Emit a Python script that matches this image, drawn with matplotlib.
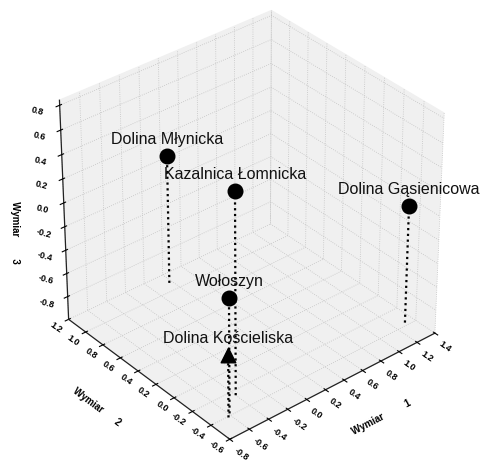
import numpy as np
import matplotlib.pyplot as plt
from matplotlib.transforms import offset_copy

plt.rcParams['font.family'] = ['Liberation Sans', 'DejaVu Sans']
plt.rcParams['grid.color'] = '#c2c2c2'
plt.rcParams['grid.linestyle'] = ':'
plt.rcParams['grid.linewidth'] = 0.6

names = ['Dolina Młynicka', 'Kazalnica Łomnicka', 'Dolina Gąsienicowa',
         'Wołoszyn', 'Dolina Kościeliska']
wymiar1 = [0.17, -0.40, 1.31, -0.59, -0.63]
wymiar2 = [1.09, -0.25, -0.37, -0.38, -0.41]
wymiar3 = [0.10, 0.69, 0.00, -0.03, -0.47]
shapes = ['o', 'o', 'o', 'o', '^']

x_ticks = np.round(np.arange(-0.8, 1.41, 0.2), 1) + 0.0
y_ticks = np.round(np.arange(-0.6, 1.21, 0.2), 1) + 0.0
z_ticks = np.round(np.arange(-0.8, 0.81, 0.2), 1) + 0.0
x_lim = (-0.8, 1.4)
y_lim = (-0.6, 1.2)
z_lim = (-1.0, 0.84)

fig = plt.figure(figsize=(4.84, 4.64), dpi=100)
ax = fig.add_axes([0.006, 0.012, 1, 1], projection='3d')
ax.view_init(elev=34, azim=-130)
ax.set_proj_type('persp', focal_length=1.2)
ax.set_box_aspect((1.09, 1.04, 1.06), zoom=0.962)

ax.set_xlim(*x_lim)
ax.set_ylim(*y_lim)
ax.set_zlim(*z_lim)
ax.set_xticks(x_ticks)
ax.set_yticks(y_ticks)
ax.set_zticks(z_ticks)
ax.set_xticklabels([f'{v:.1f}' for v in x_ticks])
ax.set_yticklabels([f'{v:.1f}' for v in y_ticks])
ax.set_zticklabels([f'{v:.1f}' for v in z_ticks])

ax.tick_params(axis='x', labelsize=6.5, pad=-3)
ax.tick_params(axis='y', labelsize=6.5, pad=-2)
ax.tick_params(axis='z', labelsize=6.5, pad=2)

for axis in (ax.xaxis, ax.yaxis, ax.zaxis):
    axis.set_pane_color((0.94, 0.94, 0.94, 1.0))
    axis.line.set_color('#222222')
    axis.line.set_linewidth(0.9)
    axis.get_offset_text().set_visible(False)
    for lbl in axis.get_ticklabels():
        lbl.set_fontweight('bold')

for lbl in ax.get_xticklabels():
    lbl.set(rotation=-35, rotation_mode='anchor', ha='left', va='center')
for lbl in ax.get_yticklabels():
    lbl.set(rotation=-35, rotation_mode='anchor', ha='right', va='center')
for lbl in ax.get_zticklabels():
    lbl.set(rotation=-15)

ax.set_xlabel('                    Wymiar         1', fontsize=7, fontweight='bold', labelpad=2)
ax.set_ylabel('Wymiar      2                   ', fontsize=7, fontweight='bold', labelpad=3)
ax.zaxis.set_rotate_label(False)
ax.set_zlabel('               Wymiar        3', fontsize=7, fontweight='bold',
              rotation=-90, labelpad=2)

# drop lines to the floor
for x, y, z in zip(wymiar1, wymiar2, wymiar3):
    ax.plot([x, x], [y, y], [z_lim[0], z], color='black',
            linestyle=(0, (1, 1.6)), linewidth=1.6)

for x, y, z, m in zip(wymiar1, wymiar2, wymiar3, shapes):
    ax.scatter([x], [y], [z], marker=m, s=110, color='black',
               depthshade=False)

label_tr = offset_copy(ax.transData, fig=fig, x=0, y=12.5, units='points')
for x, y, z, name in zip(wymiar1, wymiar2, wymiar3, names):
    ax.text(x, y, z, name, fontsize=11.5, ha='center', va='center',
            color='#111111', transform=label_tr)

fig.savefig('out.png', dpi=100, facecolor='white')
